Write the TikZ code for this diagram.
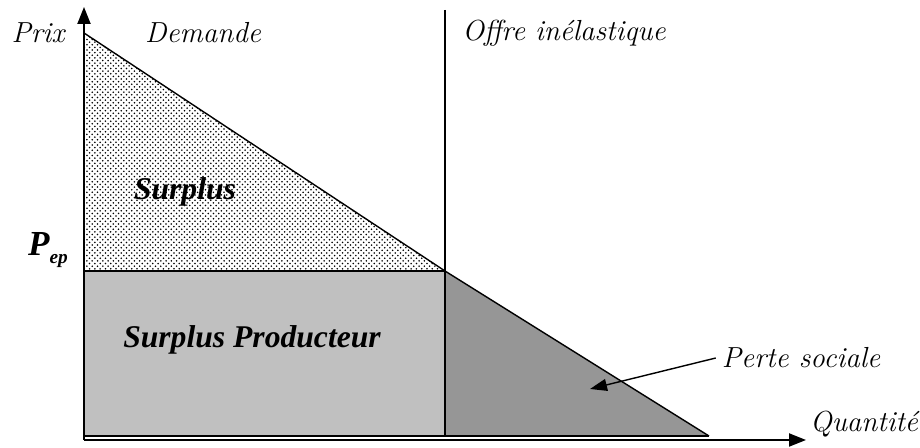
\documentclass[tikz,border=0pt]{standalone}
\usepackage{fontspec}
\newfontfamily\timesfont{Liberation Serif}
\usetikzlibrary{arrows.meta,patterns}
\definecolor{clair}{RGB}{192,192,192}
\definecolor{fonce}{RGB}{150,150,150}

\begin{document}
\begin{tikzpicture}[x=0.02cm,y=-0.02cm,
  lab/.style={font=\fontsize{16.5}{19}\selectfont\itshape},
  blab/.style={font=\fontsize{18}{21}\selectfont\timesfont\bfseries\itshape},
  axe/.style={line width=1.2pt,-{Triangle[length=0.34cm,width=0.26cm]}}]
  \useasboundingbox (0,0) rectangle (920,448);
  \coordinate (D0) at (84,33);
  \coordinate (E) at (445,271);
  \coordinate (D1) at (709,436);
  \coordinate (Ep) at (84,271);
  \coordinate (Eq) at (445,436);
  \coordinate (O) at (84,440);
  \coordinate (Ytop) at (84,7);
  \coordinate (Xend) at (806,440);
  \coordinate (Otop) at (445,10);
  % surfaces
  \fill[pattern=crosshatch dots,pattern color=black] (D0) -- (E) -- (Ep) -- cycle;
  \fill[clair] (Ep) rectangle (Eq);
  \fill[fonce] (E) -- (D1) -- (Eq) -- cycle;
  \draw[line width=1pt] (Ep) -- (E);
  \draw[line width=0.8pt] (Eq) -- (D1);
  \draw[line width=0.8pt] (84,436) -- (Eq);
  % courbes
  \draw[line width=0.8pt] (D0) -- (E) -- (D1);
  \draw[line width=0.7pt] (Otop) -- (Eq);
  % axes
  \draw[axe] (O) -- (Ytop);
  \draw[axe] (O) -- (Xend);
  \node[lab] (prix) at (38,33) {Prix};
  \node[lab] (dem) at (203,33) {Demande};
  \node[lab] (offre) at (564,33) {Offre inélastique};
  \node[lab] (qte) at (864,424) {Quantité};
  \node[blab] (surplus) at (185,192) {Surplus};
  \node[blab] (sprod) at (252,340) {Surplus Producteur};
  \node[font=\fontsize{20}{22}\selectfont\timesfont\bfseries\itshape] (pep) at (48,250)
    {P\raisebox{-5pt}{\fontsize{11}{12}\selectfont ep}};
  \node[lab] (perte) at (801,358) {Perte sociale};
  \coordinate (ps) at (590,389);
  \draw[line width=0.8pt,-{Triangle[length=0.34cm,width=0.24cm]}] (perte.west) -- (ps);
\end{tikzpicture}
\end{document}
